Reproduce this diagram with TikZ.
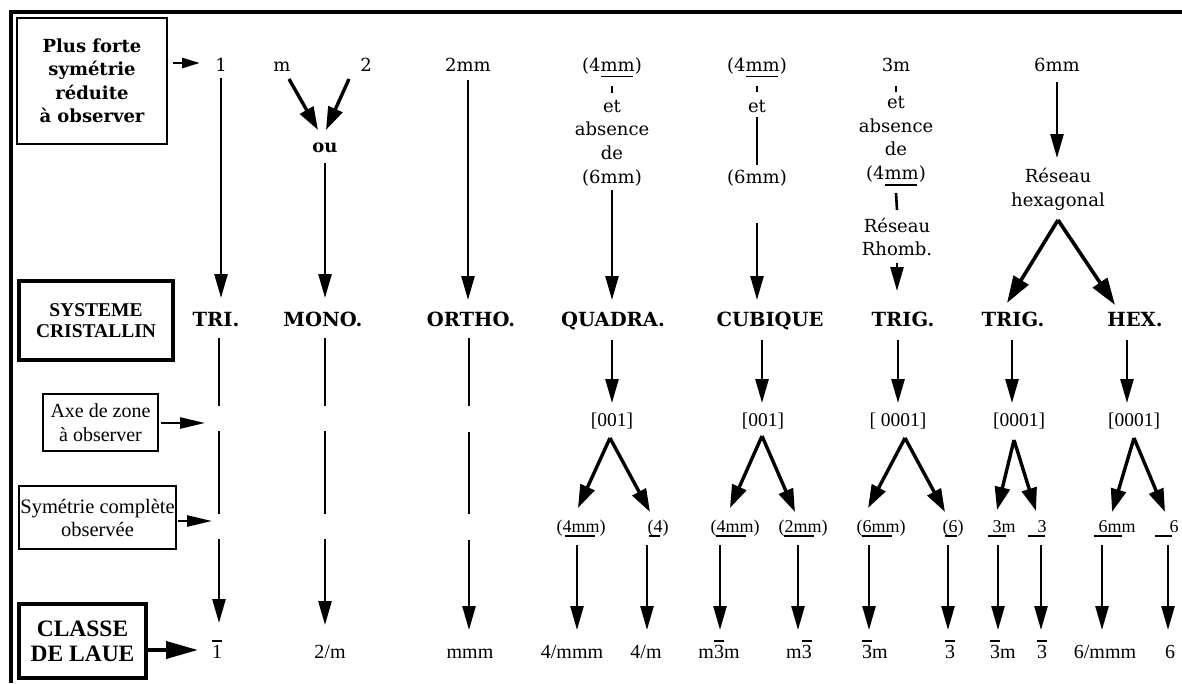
\documentclass[tikz,border=0pt]{standalone}
\usepackage{fontspec}
\setmainfont{DejaVu Serif}
\newfontfamily\tms{Liberation Serif}
\usetikzlibrary{arrows.meta,calc}
\newcommand\obar[1]{{\setbox0\hbox{#1}\rlap{\raisebox{16.5pt}{\rule{\wd0}{1.8pt}}}\box0}}
\newcommand\offul[3]{\rlap{\hspace*{#1}\rule[-4.5pt]{#2}{1.3pt}}#3}
\newcommand\topul[1]{\rlap{\hspace*{19pt}\rule[-6pt]{32pt}{1.3pt}}#1}
\begin{document}
\begin{tikzpicture}[x=1pt,y=-1pt,
  lab/.style={inner sep=0pt, anchor=base},
  sbr/.style={lab, font=\fontsize{18}{23.7}\selectfont},
  blk/.style={inner sep=0pt, align=center, font=\fontsize{18}{23.7}\selectfont},
  sbb/.style={lab, font=\bfseries\fontsize{19.5}{23}\selectfont},
  oub/.style={lab, font=\bfseries\fontsize{18}{22}\selectfont},
  tax/.style={lab, font=\tms\fontsize{19.5}{22}\selectfont},
  tsy/.style={lab, font=\tms\fontsize{18}{22}\selectfont},
  tcl/.style={lab, font=\tms\fontsize{20}{22}\selectfont},
  lbox/.style={draw, inner sep=0pt, align=center},
  ln/.style={line width=2.6pt},
  va/.style={line width=2.6pt, -{Triangle[length=24pt,width=13pt]}},
  da/.style={line width=3.4pt, -{Triangle[length=23pt,width=15pt]}},
  dh/.style={line width=3.6pt, -{Triangle[length=27pt,width=17pt]}},
  ha/.style={line width=2.8pt, -{Triangle[length=18pt,width=10pt]}},
  hb/.style={line width=2.4pt, -{Triangle[length=25pt,width=11pt]}},
  hc/.style={line width=3.8pt, -{Triangle[length=32pt,width=17pt]}}
]
\useasboundingbox (0,0) rectangle (1182,683);
\draw[line width=4pt, line join=miter] (1182,12) -- (11,12) -- (11,683);

% ---------- left boxes ----------
\node[lbox, line width=2.6pt, minimum width=150pt, minimum height=126pt,
      font=\bfseries\fontsize{18}{23.5}\selectfont] (plus) at (92,81)
      {Plus forte\\symétrie\\réduite\\à observer};
\node[lbox, line width=3.6pt, minimum width=154pt, minimum height=79pt,
      font=\tms\bfseries\fontsize{19.5}{21}\selectfont] (sys) at (96,320.5)
      {SYSTEME\\CRISTALLIN};
\node[lbox, line width=2.4pt, minimum width=115pt, minimum height=57pt,
      font=\tms\fontsize{20}{24}\selectfont] (axe) at (100.5,422.5)
      {Axe de zone\\à observer};
\node[lbox, line width=2.4pt, minimum width=157pt, minimum height=63pt,
      font=\tms\fontsize{20.5}{23}\selectfont] (symc) at (97.5,517.5)
      {Symétrie complète\\observée};
\node[lbox, line width=4.2pt, minimum width=127pt, minimum height=74pt,
      font=\tms\bfseries\fontsize{23.5}{25}\selectfont] (laue) at (82.5,641)
      {CLASSE\\DE LAUE};
\coordinate (axeT) at (205,423);
\coordinate (symT) at (212,521);

% ---------- top row ----------
\node[sbr] (one)  at (221,71) {1};
\node[sbr] (m)    at (282,71) {m};
\node[sbr] (two)  at (366,71) {2};
\node[oub] (ou)   at (325,152) {ou};
\node[sbr] (tmm)  at (468,71) {2mm};
\node[sbr] (q4)   at (612,71) {\topul{(4mm)}};
\node[blk] (qabs) at (612,143) {et\\absence\\de\\(6mm)};
\node[sbr] (c4)   at (757,71) {\topul{(4mm)}};
\node[sbr] (cet)  at (757,112) {et};
\node[sbr] (c6)   at (757,183) {(6mm)};
\node[sbr] (t3m)  at (896,71) {3m};
\node[blk] (tabs) at (896,141) {et\\absence\\de\\\topul{(4mm)}};
\node[blk] (trh)  at (897,237) {Réseau\\Rhomb.};
\node[sbr] (t6mm) at (1057,71) {6mm};
\node[blk] (hexr) at (1058,189) {Réseau\\hexagonal};

% ---------- crystal systems ----------
\node[sbb] (tri)     at (216,326) {TRI.};
\node[sbb] (mono)    at (323,326) {MONO.};
\node[sbb] (ortho)   at (471,326) {ORTHO.};
\node[sbb] (quadra)  at (613,326) {QUADRA.};
\node[sbb] (cubique) at (770,326) {CUBIQUE};
\node[sbb] (trig1)   at (903,326) {TRIG.};
\node[sbb] (trig2)   at (1013,326) {TRIG.};
\node[sbb] (hex)     at (1135,326) {HEX.};

% ---------- zone axes ----------
\node[tax] (qax)  at (612,426) {[001]};
\node[tax] (cax)  at (763,426) {[001]};
\node[tax] (t1ax) at (898,426) {[ 0001]};
\node[tax] (t2ax) at (1019,426) {[0001]};
\node[tax] (hax)  at (1134,426) {[0001]};

% ---------- observed symmetry ----------
\node[tsy] (qs1) at (581,532) {\offul{8pt}{30pt}{(4mm)}};
\node[tsy] (qs2) at (658,532) {\offul{1pt}{11pt}{(4)}};
\node[tsy] (cs1) at (735,532) {\offul{5pt}{30pt}{(4mm)}};
\node[tsy] (cs2) at (803,532) {\offul{5pt}{30pt}{(2mm)}};
\node[tsy] (ts1) at (881,532) {\offul{5pt}{30pt}{(6mm)}};
\node[tsy] (ts2) at (953,532) {\offul{2pt}{12pt}{(6)}};
\node[tsy] (us1) at (1004,532) {\offul{-5pt}{18pt}{3m}};
\node[tsy] (us2) at (1042,532) {\offul{-10pt}{17pt}{3}};
\node[tsy] (hs1) at (1117,532) {\offul{-5pt}{28pt}{6mm}};
\node[tsy] (hs2) at (1174,532) {\offul{-15pt}{17pt}{6}};

% ---------- Laue classes ----------
\node[tcl] (b1)  at (217,658) {\obar{1}};
\node[tcl] (b2)  at (330,658) {2/m};
\node[tcl] (b3)  at (470,658) {mmm};
\node[tcl] (b4)  at (572,658) {4/mmm};
\node[tcl] (b5)  at (646,658) {4/m};
\node[tcl] (b6)  at (719,658) {m\obar{3}m};
\node[tcl] (b7)  at (799,658) {m\obar{3}};
\node[tcl] (b8)  at (875,658) {\obar{3}m};
\node[tcl] (b9)  at (950,658) {\obar{3}};
\node[tcl] (b10) at (1003,658) {\obar{3}m};
\node[tcl] (b11) at (1042,658) {\obar{3}};
\node[tcl] (b12) at (1105,658) {6/mmm};
\node[tcl] (b13) at (1170,658) {6};

% ---------- box arrows ----------
\draw[ha] ($(plus.east |- one.base)+(5,-8)$) -- ($(one.base)+(-21,-8)$);
\draw[hb] ($(axe.east |- axeT)+(2,0)$) -- (axeT);
\draw[hb] ($(symc.east |- symT)+(1,0)$) -- (symT);
\draw[hc] ($(laue.east |- b1.base)+(0,-8)$) -- ($(b1.base)+(-19,-8)$);

% ---------- upper connectors ----------
\draw[va] ($(one.base)+(0,7)$) -- ($(one.base |- tri.base)+(0,-28)$);
\draw[da] ($(m.base)+(7,8)$) -- ($(ou.base)+(-7,-22)$);
\draw[da] ($(two.base)+(-17,8)$) -- ($(ou.base)+(1,-22)$);
\draw[va] ($(ou.base)+(0,11)$) -- ($(ou.base |- mono.base)+(0,-28)$);
\draw[va] ($(tmm.base)+(0,9)$) -- ($(tmm.base |- ortho.base)+(0,-26)$);
\draw[ln] ($(q4.base)+(0,15)$) -- ($(q4.base)+(0,22)$);
\draw[va] ($(qabs)+(0,47)$) -- ($(qabs |- quadra.base)+(0,-26)$);
\draw[ln] ($(c4.base)+(0,15)$) -- ($(c4.base)+(0,21)$);
\draw[ln] ($(cet.base)+(0,5)$) -- ($(c6.base)+(0,-18)$);
\draw[va] ($(c6.base)+(0,40)$) -- ($(c6.base |- cubique.base)+(0,-26)$);
\draw[ln] ($(t3m.base)+(0,15)$) -- ($(t3m.base)+(0,21)$);
\draw[ln] ($(tabs)+(0,52)$) -- ($(trh)+(0,-27)$);
\draw[va] ($(trh)+(0,26)$) -- ($(trh |- trig1.base)+(0,-35)$);
\draw[va] ($(t6mm.base)+(0,11)$) -- ($(hexr)+(-1,-31)$);
\draw[dh] ($(hexr)+(0,31)$) -- ($(trig2.base)+(-6,-23)$);
\draw[dh] ($(hexr)+(0,31)$) -- ($(hex.base)+(-20,-21)$);

% ---------- TRI / MONO / ORTHO columns ----------
\draw[ln] ($(tri.base)+(3,12)$) -- ($(tri.base)+(3,80)$);
\draw[ln] ($(tri.base)+(3,105)$) -- ($(tri.base)+(3,188)$);
\draw[va] ($(tri.base)+(3,213)$) -- ($(b1.base)+(2,-35)$);
\draw[ln] ($(mono.base)+(2,12)$) -- ($(mono.base)+(2,80)$);
\draw[ln] ($(mono.base)+(2,105)$) -- ($(mono.base)+(2,188)$);
\draw[va] ($(mono.base)+(2,213)$) -- ($(b2.base)+(-5,-33)$);
\draw[ln] ($(ortho.base)+(-2,12)$) -- ($(ortho.base)+(-2,80)$);
\draw[ln] ($(ortho.base)+(-2,106)$) -- ($(ortho.base)+(-2,188)$);
\draw[va] ($(ortho.base)+(-2,214)$) -- ($(b3.base)+(-1,-28)$);

% ---------- system -> zone axis ----------
\draw[va] ($(quadra.base)+(-1,14)$) -- ($(qax.base)+(0,-23)$);
\draw[va] ($(cubique.base)+(-8,14)$) -- ($(cax.base)+(-1,-23)$);
\draw[va] ($(trig1.base)+(-5,14)$) -- ($(t1ax.base)+(0,-23)$);
\draw[va] ($(trig2.base)+(-1,14)$) -- ($(t2ax.base)+(-7,-23)$);
\draw[va] ($(hex.base)+(-8,14)$) -- ($(hax.base)+(-7,-23)$);

% ---------- zone axis -> observed symmetry ----------
\draw[da] ($(qax.base)+(-2,12)$) -- ($(qs1.base)+(-3,-24)$);
\draw[da] ($(qax.base)+(-2,12)$) -- ($(qs2.base)+(-8,-20)$);
\draw[da] ($(cax.base)+(-1,10)$) -- ($(cs1.base)+(-5,-24)$);
\draw[da] ($(cax.base)+(-1,10)$) -- ($(cs2.base)+(-8,-20)$);
\draw[da] ($(t1ax.base)+(7,12)$) -- ($(ts1.base)+(-13,-24)$);
\draw[da] ($(t1ax.base)+(7,12)$) -- ($(ts2.base)+(-8,-20)$);
\draw[da] ($(t2ax.base)+(-5,14)$) -- ($(us1.base)+(-7,-22)$);
\draw[da] ($(t2ax.base)+(-5,14)$) -- ($(us2.base)+(-6,-21)$);
\draw[da] ($(hax.base)+(0,12)$) -- ($(hs1.base)+(-5,-20)$);
\draw[da] ($(hax.base)+(0,12)$) -- ($(hs2.base)+(-9,-20)$);

% ---------- observed symmetry -> Laue class ----------
\draw[va] ($(qs1.base)+(-4,13)$) -- ($(b4.base)+(5,-28)$);
\draw[va] ($(qs2.base)+(-11,13)$) -- ($(b5.base)+(1,-28)$);
\draw[va] ($(cs1.base)+(-15,13)$) -- ($(b6.base)+(1,-28)$);
\draw[va] ($(cs2.base)+(-5,13)$) -- ($(b7.base)+(-1,-28)$);
\draw[va] ($(ts1.base)+(-12,13)$) -- ($(b8.base)+(-6,-28)$);
\draw[va] ($(ts2.base)+(-5,13)$) -- ($(b9.base)+(-2,-28)$);
\draw[va] ($(us1.base)+(-6,13)$) -- ($(b10.base)+(-5,-28)$);
\draw[va] ($(us2.base)+(-1,13)$) -- ($(b11.base)+(-1,-28)$);
\draw[va] ($(hs1.base)+(-15,13)$) -- ($(b12.base)+(-3,-28)$);
\draw[va] ($(hs2.base)+(-6,13)$) -- ($(b13.base)+(-2,-28)$);
\end{tikzpicture}
\end{document}
